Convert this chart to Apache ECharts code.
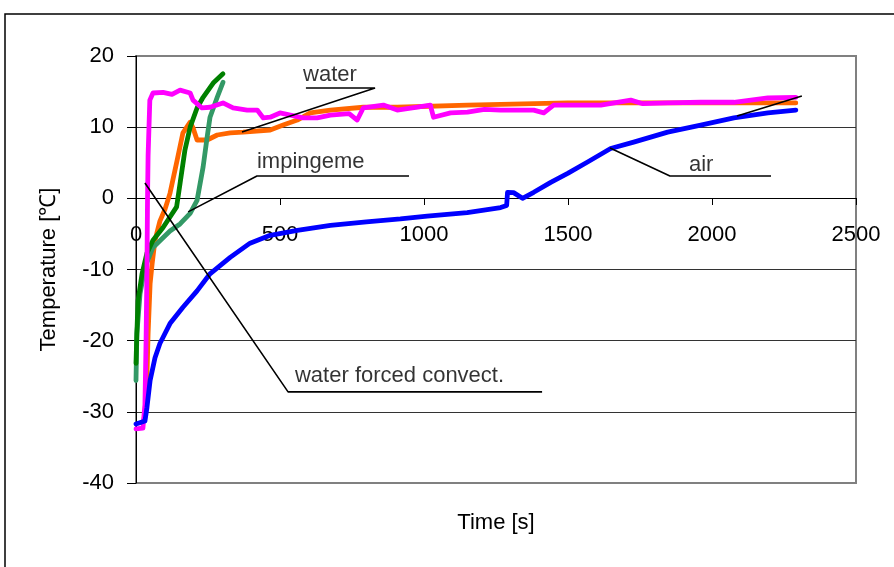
<!DOCTYPE html>
<html><head><meta charset="utf-8">
<script src="https://cdn.jsdelivr.net/npm/echarts@6/dist/echarts.min.js"></script>
<style>html,body{margin:0;padding:0;background:#fff}#c{width:894px;height:567px}</style>
</head><body><div id="c"></div>
<script>
const xTicks = [0, 500, 1000, 1500, 2000, 2500];
const yTicks = [-40, -30, -20, -10, 0, 10, 20];

const airData = [[0,-31.7],[31,-31.3],[38,-29.4],[49,-25.6],[66,-22.4],[83,-20.4],[118,-17.6],[163,-15.3],[212,-13.0],[257,-10.6],[327,-8.3],[396,-6.3],[466,-5.2],[560,-4.5],[675,-3.8],[800,-3.3],[918,-2.9],[1011,-2.5],[1150,-2.0],[1266,-1.3],[1287,-1.0],[1290,0.85],[1311,0.8],[1342,0.0],[1381,0.85],[1440,2.25],[1499,3.5],[1568,5.1],[1648,7.0],[1728,7.9],[1846,9.3],[1961,10.3],[2076,11.3],[2194,12.0],[2291,12.4]];

const magentaData = [[0,-32.4],[24,-32.3],[31,-29],[35,-20],[38,-10],[40,0],[42,6],[48,13.8],[59,14.8],[94,14.9],[125,14.6],[153,15.2],[188,14.8],[198,13.8],[229,12.7],[257,12.8],[302,13.4],[337,12.7],[386,12.4],[421,12.4],[442,11.3],[466,11.4],[500,12.0],[580,11.3],[629,11.3],[675,11.7],[740,11.9],[768,11.0],[789,12.7],[859,13.1],[907,12.4],[977,12.8],[1022,13.1],[1033,11.4],[1092,12.0],[1151,12.1],[1210,12.5],[1266,12.4],[1381,12.4],[1416,12.0],[1450,13.1],[1614,13.1],[1718,13.8],[1760,13.3],[1846,13.4],[1961,13.5],[2076,13.5],[2194,14.1],[2291,14.2]];

const orangeData = [[28,-31],[31,-30.3],[38,-25.2],[42,-19],[49,-12],[56,-9.2],[66,-5.9],[83,-3.2],[101,-1.5],[118,0.7],[143,5.4],[163,9.2],[188,10.7],[198,9.9],[212,8.2],[247,8.2],[282,8.9],[327,9.2],[372,9.3],[466,9.6],[511,10.3],[560,11.0],[605,12.0],[675,12.4],[789,12.8],[907,12.8],[1151,13.1],[1499,13.4],[1961,13.4],[2291,13.4]];

const darkGreenData = [[0,-23.2],[3,-19],[7,-14.4],[21,-10.6],[38,-7.7],[59,-5.9],[94,-4.1],[141,-1.2],[153,2.1],[170,6.8],[188,10.0],[212,12.7],[233,14.2],[268,16.2],[302,17.5]];

const seaGreenData = [[0,-25.6],[3,-19],[14,-13.4],[31,-9.7],[59,-6.9],[118,-4.6],[153,-3.6],[188,-2.1],[212,-0.3],[233,4.4],[247,8.6],[257,11.4],[282,14.2],[302,16.3]];

// annotation labels and leader lines (in data coordinates)
const annoTexts = ['water', 'impingeme', 'water forced convect.', 'air'];
const annoTextPos = [[580,17.4],[420,5.17],[552,-25.0],[1920,4.75]];
const annoLines = [
  [[590,15.5],[830,15.5],[368,9.32]],
  [[948,3.13],[420,3.13],[181,-1.9]],
  [[31,2.15],[528,-27.2],[1410,-27.2]],
  [[2205,3.13],[1854,3.13],[1646,7.07]],
  [[2087,11.56],[2312,14.37]]
];

const font = '"Liberation Sans", Arial, sans-serif';
const chart = echarts.init(document.getElementById('c'));

function dataSeries(name, data, color, z) {
  return { name, type: 'line', data, showSymbol: false, symbol: 'none', smooth: false,
    lineStyle: { color, width: 4.8, join: 'round', cap: 'round' }, z, silent: true, animation: false };
}

const series = [
  dataSeries('orange', orangeData, '#FF6600', 2),
  dataSeries('seagreen', seaGreenData, '#339966', 3),
  dataSeries('darkgreen', darkGreenData, '#008000', 4),
  dataSeries('magenta', magentaData, '#FF00FF', 5),
  dataSeries('air', airData, '#0000FF', 6)
];
annoLines.forEach((pts) => series.push({
  type: 'line', data: pts, symbol: 'none', silent: true, animation: false, z: 10,
  lineStyle: { color: '#000', width: 1.6 }
}));
series.push({
  type: 'scatter', symbolSize: 0, silent: true, animation: false, z: 11,
  data: annoTextPos.map((p, i) => ({ value: p, name: annoTexts[i] })),
  label: { show: true, position: 'right', distance: 0, formatter: p => p.name,
    fontFamily: font, fontSize: 22, color: '#000' }
});

chart.setOption({
  animation: false,
  backgroundColor: '#fff',
  graphic: [{ type: 'rect', shape: { x: 5, y: 14, width: 1200, height: 1000 },
    style: { fill: 'none', stroke: '#000', lineWidth: 1.5 }, silent: true, z: -1 }],
  grid: { left: 136, right: 38, top: 56, bottom: 84, show: true, borderColor: '#808080', borderWidth: 2,
    backgroundColor: 'transparent', containLabel: false, outerBoundsMode: 'none' },
  xAxis: {
    type: 'value', min: xTicks[0], max: xTicks[xTicks.length-1], interval: 500,
    position: 'bottom', offset: -285,
    name: 'Time [s]', nameLocation: 'middle', nameGap: 314,
    nameTextStyle: { fontFamily: font, fontSize: 22, color: '#000' },
    axisLine: { onZero: false, lineStyle: { color: '#000', width: 1 } },
    axisTick: { show: true, length: 7, lineStyle: { color: '#000' } },
    axisLabel: { fontFamily: font, fontSize: 22, color: '#000', margin: 26, formatter: v => String(v) },
    splitLine: { show: false }
  },
  yAxis: {
    type: 'value', min: yTicks[0], max: yTicks[yTicks.length-1], interval: 10,
    name: 'Temperature [℃]', nameLocation: 'middle', nameGap: 76,
    nameTextStyle: { fontFamily: font, fontSize: 22, color: '#000' },
    axisLine: { show: true, onZero: false, lineStyle: { color: '#000', width: 1 } },
    axisTick: { show: true, length: 9, lineStyle: { color: '#000' } },
    axisLabel: { fontFamily: font, fontSize: 22, color: '#000', margin: 22, formatter: v => String(v) },
    splitLine: { show: true, lineStyle: { color: ['#808080','#333','#333','#333','#333','#333','#808080'], width: 1 } }
  },
  series
});
</script></body></html>
